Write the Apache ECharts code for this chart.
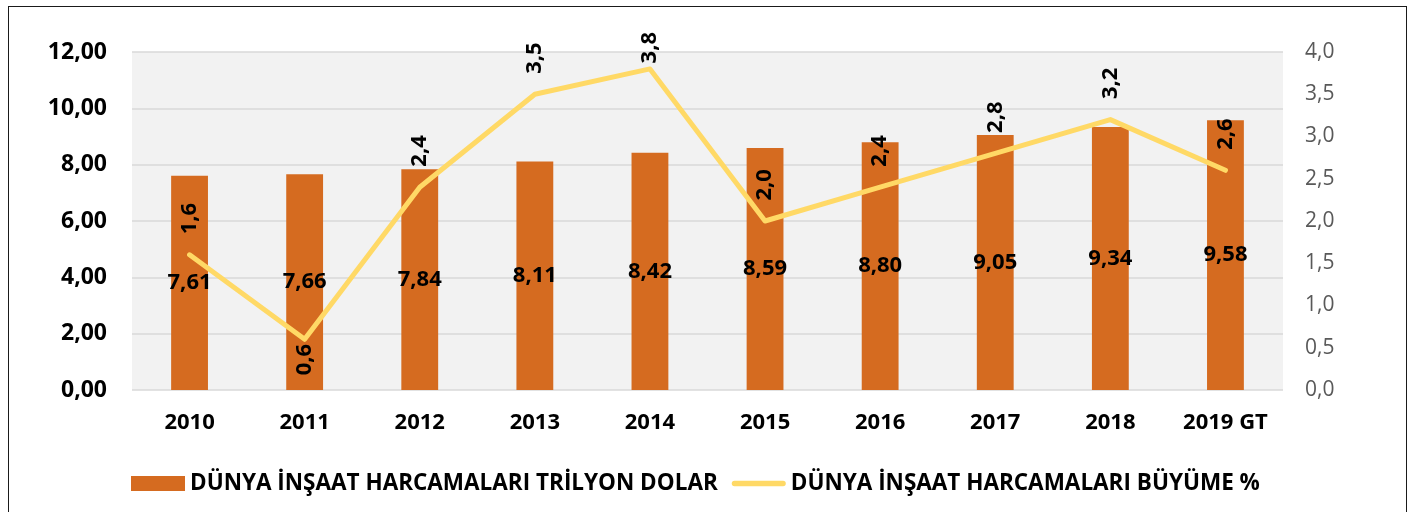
<!DOCTYPE html>
<html><head><meta charset="utf-8">
<script src="https://cdn.jsdelivr.net/npm/echarts@6/dist/echarts.min.js"></script>
<style>
html,body{margin:0;padding:0;background:#fff;}
#c{width:1415px;height:512px;position:absolute;left:0;top:0;}
#b{position:absolute;left:8px;top:6px;width:1397px;height:540px;border:1px solid #1a1a1a;pointer-events:none;}
</style></head>
<body>
<div id="c"></div><div id="b"></div>
<script>
const categories = ['2010','2011','2012','2013','2014','2015','2016','2017','2018','2019 GT'];
const spending = [7.61, 7.66, 7.84, 8.11, 8.42, 8.59, 8.80, 9.05, 9.34, 9.58];
const growth = [1.6, 0.6, 2.4, 3.5, 3.8, 2.0, 2.4, 2.8, 3.2, 2.6];
const seriesNames = ['DÜNYA İNŞAAT HARCAMALARI TRİLYON DOLAR', 'DÜNYA İNŞAAT HARCAMALARI BÜYÜME %'];

const FONT = 'Open Sans';
const fmt = (v, d) => Number(v).toFixed(d).replace('.', ',');

const labelTop = {position:'top', rotate:90, align:'left', verticalAlign:'middle', distance:20};
const labelOverrides = {1:{position:'bottom', rotate:90, align:'right', verticalAlign:'middle', distance:4}, 4:{distance:5}};
const growthData = growth.map((v,i) => labelOverrides[i] ? {value:v, label:Object.assign({}, labelTop, labelOverrides[i])} : v);

const chart = echarts.init(document.getElementById('c'));
chart.setOption({
  animation:false,
  textStyle:{fontFamily:FONT},
  grid:{left:132, right:132, top:52, bottom:122, show:true, backgroundColor:'#F2F2F2', borderWidth:0},
  legend:{
    left:126, top:467, itemWidth:54, itemHeight:15, itemGap:14,
    textStyle:{fontFamily:FONT, fontWeight:'bold', fontSize:22.5, color:'#000'},
    data:[{name:seriesNames[0], icon:'rect'},
          {name:seriesNames[1], icon:'path://M3,0 L57,0 A3,3 0 0 1 57,6 L3,6 A3,3 0 0 1 3,0 Z', itemStyle:{color:'#FFD966'}}]
  },
  xAxis:{
    type:'category', data:categories,
    axisLine:{show:false}, axisTick:{show:false},
    axisLabel:{fontFamily:FONT, fontWeight:'bold', fontSize:22, color:'#000', margin:22}
  },
  yAxis:[
    {type:'value', min:0, max:12, interval:2,
     axisLine:{show:false}, axisTick:{show:false},
     splitLine:{lineStyle:{color:'#D9D9D9', width:1.5}},
     axisLabel:{fontFamily:FONT, fontWeight:'bold', fontSize:23, color:'#000', margin:25, formatter:v=>fmt(v,2)}},
    {type:'value', min:0, max:4, interval:0.5,
     axisLine:{show:false}, axisTick:{show:false}, splitLine:{show:false},
     axisLabel:{fontFamily:FONT, fontSize:21, color:'#595959', margin:22, formatter:v=>fmt(v,1)}}
  ],
  series:[
    {name:seriesNames[0], type:'bar', data:spending, barWidth:'32%', yAxisIndex:0,
     itemStyle:{color:'#D56B20'},
     label:{show:true, position:'inside', fontFamily:FONT, fontWeight:'bold', fontSize:22, color:'#000', formatter:p=>fmt(p.value,2)}},
    {name:seriesNames[1], type:'line', data:growthData, yAxisIndex:1,
     symbol:'circle', symbolSize:1, showSymbol:true,
     itemStyle:{color:'#FFD966'},
     lineStyle:{color:'#FFD966', width:5, cap:'round', join:'round'},
     label:Object.assign({show:true, fontFamily:FONT, fontWeight:'bold', fontSize:22, color:'#000', formatter:p=>fmt(p.value,1)}, labelTop)}
  ]
});
</script>
</body></html>
